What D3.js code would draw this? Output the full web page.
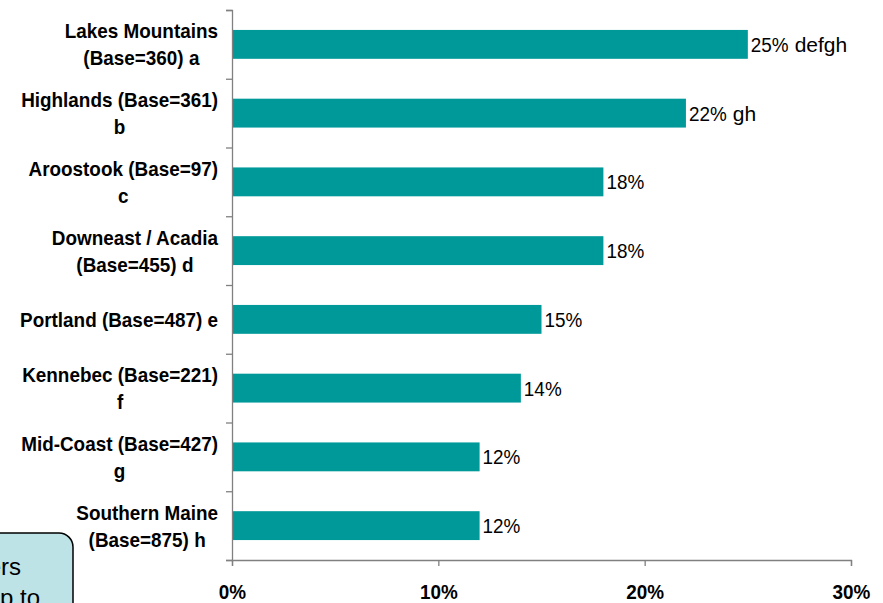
<!DOCTYPE html>
<html lang="en">
<head>
    <meta charset="UTF-8">
    <title>Regions</title>
    <script src="https://d3js.org/d3.v7.min.js"></script>
    <style>
        body { margin: 0; background: #fff; }
        text { font-family: Arial, "Liberation Sans", sans-serif; fill: #000; }
    </style>
</head>
<body>
    <div id="chart"></div>

    <script>
        // Data
        const categories = [
            "Lakes Mountains\n(Base=360) a",
            "Highlands (Base=361)\nb",
            "Aroostook (Base=97)\nc",
            "Downeast / Acadia\n(Base=455) d",
            "Portland (Base=487) e",
            "Kennebec (Base=221)\nf",
            "Mid-Coast (Base=427)\ng",
            "Southern Maine\n(Base=875) h"
        ];
        const values = [0.25, 0.22, 0.18, 0.18, 0.15, 0.14, 0.12, 0.12];
        const sigLetters = ["defgh", "gh", "", "", "", "", "", ""];
        const xTicks = [0, 0.1, 0.2, 0.3];
        const noteLines = ["Numbers", "may not sum up to"];

        const W = 883, H = 603;
        const margin = { left: 232, right: 851, top: 10, bottom: 560 };
        const squeeze = "scale(0.9,1)";   // text in the original is slightly narrow

        const svg = d3.select("#chart")
            .append("svg")
            .attr("width", W)
            .attr("height", H);

        const x = d3.scaleLinear()
            .domain([0, 0.3])
            .range([margin.left, margin.right]);

        const y = d3.scaleBand()
            .domain(categories)
            .range([margin.top, margin.bottom])
            .paddingInner(0.58)
            .paddingOuter(0.29);

        // slot boundaries for the category ticks
        const slots = d3.scaleLinear()
            .domain([0, categories.length])
            .range([margin.top, margin.bottom]);

        // bars
        svg.append("g")
            .selectAll("rect")
            .data(values)
            .join("rect")
            .attr("x", x(0))
            .attr("y", (d, i) => y(categories[i]))
            .attr("width", d => x(d) - x(0))
            .attr("height", y.bandwidth())
            .attr("fill", "#009999");

        // x axis
        const xAxis = svg.append("g")
            .attr("transform", `translate(0,${margin.bottom})`)
            .call(d3.axisBottom(x)
                .tickValues(xTicks)
                .tickFormat(d3.format(".0%"))
                .tickSizeOuter(0)
                .tickSize(6)
                .tickPadding(18));

        // y axis (ticks between categories)
        const yAxis = svg.append("g")
            .attr("transform", `translate(${margin.left},0)`)
            .call(d3.axisLeft(slots)
                .ticks(categories.length)
                .tickFormat("")
                .tickSizeOuter(0)
                .tickSize(6));

        [xAxis, yAxis].forEach(a => {
            a.selectAll("path, line").attr("stroke", "#808080").attr("stroke-width", 1.3);
        });

        xAxis.selectAll("text")
            .attr("fill", "#000")
            .style("font-size", "21px")
            .style("font-weight", "bold")
            .attr("transform", squeeze);

        // category labels, block right-aligned, lines centred
        const lineGap = 27;
        categories.forEach(c => {
            const lines = c.split("\n");
            const cy = y(c) + y.bandwidth() / 2;
            const rows = lines.map((ln, j) => ({
                text: ln,
                gy: cy + (j - (lines.length - 1) / 2) * lineGap
            }));
            const g = svg.append("g");
            const rowG = g.selectAll("g")
                .data(rows)
                .join("g");
            const texts = rowG.append("text")
                .attr("text-anchor", "middle")
                .attr("dy", "0.36em")
                .style("font-size", "21px")
                .style("font-weight", "bold")
                .attr("transform", squeeze)
                .text(d => d.text);
            const maxW = d3.max(texts.nodes(), n => n.getComputedTextLength()) * 0.9;
            const cx = 218 - maxW / 2;
            rowG.attr("transform", d => `translate(${cx},${d.gy})`);
        });

        // value labels, significance letters set a bit wider
        values.forEach((v, i) => {
            const g = svg.append("g")
                .attr("transform", `translate(${x(v) + 3},${y(categories[i]) + y.bandwidth() / 2})`);
            const pct = g.append("text")
                .attr("dy", "0.36em")
                .style("font-size", "21px")
                .attr("transform", squeeze)
                .text(d3.format(".0%")(v));
            if (sigLetters[i]) {
                g.append("text")
                    .attr("x", pct.node().getComputedTextLength() * 0.9 + 6)
                    .attr("dy", "0.36em")
                    .style("font-size", "21px")
                    .text(sigLetters[i]);
            }
        });

        // note box at bottom left, cut off by the edge as in the original
        const note = svg.append("g");
        note.append("rect")
            .attr("x", -40)
            .attr("y", 533)
            .attr("width", 113)
            .attr("height", 110)
            .attr("rx", 14)
            .attr("fill", "#bee3e6")
            .attr("stroke", "#000")
            .attr("stroke-width", 1.5);
        note.selectAll("text")
            .data(noteLines)
            .join("text")
            .attr("x", (d, i) => i === 0 ? 21 : 40)
            .attr("y", (d, i) => 575 + i * 31)
            .attr("text-anchor", "end")
            .style("font-size", "24px")
            .text(d => d);
    </script>
</body>
</html>
